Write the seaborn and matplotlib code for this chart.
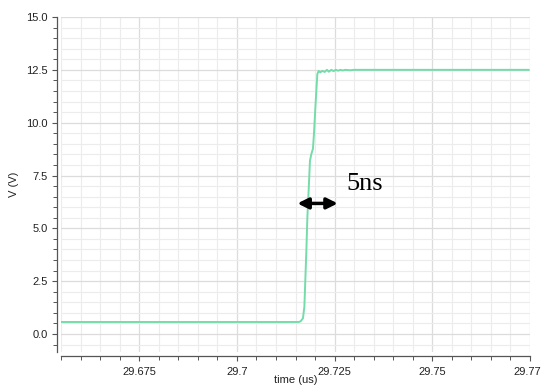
import matplotlib
matplotlib.use('Agg')
import matplotlib.pyplot as plt
import matplotlib.transforms as mtransforms
from matplotlib.ticker import MultipleLocator, FixedLocator
import seaborn as sns
import pandas as pd

# waveform (time in us, voltage in V)
time_us = [29.655, 29.7158, 29.7163, 29.7169, 29.71727, 29.71742, 29.71778,
           29.71804, 29.71844, 29.7187, 29.71906, 29.71946, 29.71972, 29.72008,
           29.72033, 29.72059, 29.72092, 29.72135, 29.72186, 29.72245, 29.72304,
           29.72355, 29.72416, 29.72474, 29.7253, 29.7259, 29.7265, 29.7271,
           29.7277, 29.729, 29.730, 29.7747]
volts = [0.57, 0.57, 0.60, 0.74, 1.29, 2.07, 3.96,
         5.53, 7.10, 8.20, 8.52, 8.76, 9.46, 10.7,
         11.5, 12.3, 12.45, 12.38, 12.45, 12.40, 12.50,
         12.41, 12.50, 12.44, 12.50, 12.46, 12.50, 12.47,
         12.50, 12.48, 12.50, 12.50]

x_major = [29.675, 29.7, 29.725, 29.75, 29.775]
x_labels = ["29.675", "29.7", "29.725", "29.75", "29.77"]
y_major = [0.0, 2.5, 5.0, 7.5, 10.0, 12.5, 15.0]

sns.set_style("white")
plt.rcParams['font.family'] = ['Liberation Sans', 'DejaVu Sans']

df = pd.DataFrame({"time": time_us, "V": volts})

fig = plt.figure(figsize=(5.42, 3.87), dpi=100)
ax = fig.add_axes([61 / 542, 1 - 352 / 387, (530 - 61) / 542, (352 - 17) / 387])

sns.lineplot(data=df, x="time", y="V", ax=ax, color="#74dcaa", linewidth=1.4)

ax.set_xlim(29.655, 29.775)
ax.set_ylim(-0.85, 15.0)

ax.xaxis.set_major_locator(FixedLocator(x_major))
ax.set_xticklabels(x_labels)
ax.xaxis.set_minor_locator(MultipleLocator(0.005))
ax.yaxis.set_major_locator(FixedLocator(y_major))
ax.set_yticklabels([f"{v:.1f}" for v in y_major])
ax.yaxis.set_minor_locator(MultipleLocator(0.5))

ax.grid(True, which='minor', color='#ececec', linewidth=0.8)
ax.grid(True, which='major', color='#dcdcdc', linewidth=0.9)
ax.set_axisbelow(True)

sns.despine(ax=ax, offset=3)
for s in ['left', 'bottom']:
    ax.spines[s].set_color('#555555')
    ax.spines[s].set_linewidth(0.9)

ax.tick_params(axis='both', which='major', direction='out', length=3.5, width=0.8,
               color='#555555', labelsize=8, labelcolor='#222222', pad=3,
               left=True, bottom=True)
ax.tick_params(axis='both', which='minor', direction='out', length=3, width=0.7,
               color='#555555', left=True, bottom=True)
ax.tick_params(axis='x', which='major', pad=4)

# last x label sits against the right edge, nudge it left a little
last = ax.get_xticklabels()[-1]
last.set_transform(last.get_transform() +
                   mtransforms.ScaledTranslation(-3 / 100, 0, fig.dpi_scale_trans))

ax.set_xlabel("time (us)", fontsize=8, color='#222222', labelpad=-1)
ax.set_ylabel("V (V)", fontsize=8, color='#222222', labelpad=5)

# annotation: rise-time arrow
ax.annotate("", xy=(29.7155, 6.18), xytext=(29.7258, 6.18),
            arrowprops=dict(arrowstyle='<|-|>', color='black', lw=2.5,
                            mutation_scale=16, shrinkA=0, shrinkB=0))
ax.text(29.7281, 7.1, "5ns", family='Liberation Serif', fontsize=19,
        color='black', va='center', ha='left')

fig.savefig("out.png", dpi=100)
